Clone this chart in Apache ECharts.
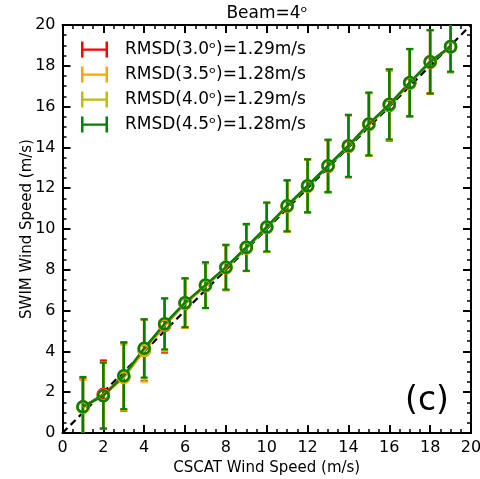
<!DOCTYPE html>
<html>
<head>
<meta charset="utf-8">
<script src="https://cdn.jsdelivr.net/npm/echarts@6/dist/echarts.min.js"></script>
<style>
html,body{margin:0;padding:0;background:#fff;overflow:hidden;}
#chart{width:480px;height:479px;}
</style>
</head>
<body>
<div id="chart"></div>
<script>
// ---- data ----
const xValues = [1,2,3,4,5,6,7,8,9,10,11,12,13,14,15,16,17,18,19];
const seriesNames = ['RMSD(3.0ᵒ)=1.29m/s','RMSD(3.5ᵒ)=1.28m/s','RMSD(4.0ᵒ)=1.29m/s','RMSD(4.5ᵒ)=1.28m/s'];
const meanRed    = [1.27,1.90,2.75,4.05,5.27,6.35,7.22,8.10,9.08,10.07,11.12,12.10,13.07,14.05,15.12,16.05,17.15,18.18,18.92];
const stdRed     = [1.40,1.66,1.66,1.50,1.33,1.20,1.10,1.10,1.14,1.20,1.26,1.30,1.28,1.52,1.54,1.72,1.66,1.56,1.24];
const meanOrange = [1.25,1.85,2.72,4.05,5.30,6.35,7.22,8.10,9.07,10.07,11.12,12.10,13.08,14.06,15.13,16.08,17.16,18.20,18.93];
const stdOrange  = [1.35,1.62,1.61,1.53,1.30,1.20,1.10,1.10,1.14,1.20,1.25,1.30,1.28,1.52,1.54,1.72,1.66,1.55,1.23];
const meanYellow = [1.28,1.84,2.80,4.12,5.33,6.38,7.24,8.12,9.10,10.09,11.13,12.11,13.09,14.07,15.14,16.10,17.17,18.20,18.94];
const stdYellow  = [1.44,1.62,1.65,1.45,1.26,1.20,1.12,1.10,1.15,1.20,1.25,1.30,1.28,1.52,1.54,1.72,1.65,1.55,1.23];
const meanGreen  = [1.29,1.83,2.81,4.15,5.35,6.39,7.25,8.13,9.10,10.10,11.14,12.12,13.10,14.08,15.15,16.11,17.18,18.20,18.94];
const stdGreen   = [1.46,1.62,1.64,1.43,1.25,1.20,1.12,1.10,1.15,1.20,1.25,1.30,1.28,1.52,1.54,1.72,1.65,1.55,1.23];
const diagLine   = [[0,0],[20,20]];
const axisTicks  = [0,2,4,6,8,10,12,14,16,18,20];

const colors = ['#ff0000','#ffa500','#bfbf00','#008000'];
const means = [meanRed, meanOrange, meanYellow, meanGreen];
const stds  = [stdRed, stdOrange, stdYellow, stdGreen];

const FONT = 'DejaVu Sans';
const chart = echarts.init(document.getElementById('chart'), null, {renderer:'canvas', width:480, height:479});

function makeErr(color){
  return function(params, api){
    const x = api.value(0), lo = api.value(1), hi = api.value(2);
    const p1 = api.coord([x, hi]), p2 = api.coord([x, lo]);
    const hw = 3.5;
    return {type:'group', children:[
      {type:'line', shape:{x1:p1[0],y1:p1[1],x2:p2[0],y2:p2[1]}, style:{stroke:color,lineWidth:2.5}},
      {type:'line', shape:{x1:p1[0]-hw,y1:p1[1],x2:p1[0]+hw,y2:p1[1]}, style:{stroke:color,lineWidth:2}},
      {type:'line', shape:{x1:p2[0]-hw,y1:p2[1],x2:p2[0]+hw,y2:p2[1]}, style:{stroke:color,lineWidth:2}}
    ]};
  };
}

const series = [{
  type:'line', name:'diag', data: diagLine, symbol:'none', silent:true,
  lineStyle:{color:'#000', width:2.2, type:[7,4.5]}, z:1
}];
for (let i=0;i<4;i++){
  const c = colors[i];
  series.push({
    type:'custom', name: seriesNames[i], renderItem: makeErr(c), clip:true,
    itemStyle:{color:c},
    data: xValues.map((x,j)=>[x, means[i][j]-stds[i][j], means[i][j]+stds[i][j]]), z:2
  });
  series.push({
    type:'line', name: 'mean' + i, data: xValues.map((x,j)=>[x, means[i][j]]),
    symbol:'circle', symbolSize:11,
    lineStyle:{color:c, width:2.5},
    itemStyle:{color:'rgba(0,0,0,0)', borderColor:c, borderWidth:2.5},
    z:2
  });
}

const axisCommon = {
  type:'value', min:0, max:20, interval:2,
  axisLine:{show:true, onZero:false, lineStyle:{color:'#000', width:2}},
  axisTick:{show:true, inside:true, length:8, lineStyle:{color:'#000', width:2}},
  minorTick:{show:true, splitNumber:4, length:4, lineStyle:{color:'#000', width:1.5}},
  splitLine:{show:false}
};
const legendIcon = 'path://M0,0L2.5,0L2.5,16L0,16Z M0,7L27,7L27,9.2L0,9.2Z M24.5,0L27,0L27,16L24.5,16Z';

chart.setOption({
  animation:false,
  backgroundColor:'#fff',
  title:[
    {text:'Beam=4ᵒ', left:267, top:5, textAlign:'center', padding:0,
     textStyle:{fontFamily:FONT, fontSize:17, fontWeight:'normal', color:'#000'}},
    {text:'(c)', left:427, top:385, textAlign:'center', padding:0,
     textStyle:{fontFamily:FONT, fontSize:33, fontWeight:'normal', color:'#000'}}
  ],
  legend:{
    orient:'vertical', left:81, top:41, padding:0, itemWidth:27, itemHeight:16, itemGap:8,
    data: seriesNames.map((n,i)=>({name:n, icon:legendIcon, itemStyle:{color:colors[i], borderWidth:0}})),
    textStyle:{fontFamily:FONT, fontSize:17, color:'#000', padding:[0,0,0,12], lineHeight:16}
  },
  grid:{left:62.5, top:25, right:9, bottom:46, containLabel:false, outerBoundsMode:'none'},
  xAxis:[
    Object.assign({}, axisCommon, {position:'bottom', name:'CSCAT Wind Speed (m/s)', nameLocation:'middle', nameGap:28,
      nameMoveOverlap:false,
      nameTextStyle:{fontFamily:FONT, fontSize:15, color:'#000'},
      axisLabel:{show:true, fontFamily:FONT, fontSize:16, color:'#000', margin:7,
        formatter: v => axisTicks.includes(v) ? String(v) : ''}}),
    Object.assign({}, axisCommon, {position:'top', axisLabel:{show:false}})
  ],
  yAxis:[
    Object.assign({}, axisCommon, {position:'left', name:'SWIM Wind Speed (m/s)', nameLocation:'middle', nameGap:28,
      nameMoveOverlap:false,
      nameTextStyle:{fontFamily:FONT, fontSize:15, color:'#000'},
      axisLabel:{show:true, fontFamily:FONT, fontSize:16, color:'#000', margin:7,
        formatter: v => axisTicks.includes(v) ? String(v) : ''}}),
    Object.assign({}, axisCommon, {position:'right', axisLabel:{show:false}})
  ],
  series: series
});
</script>
</body>
</html>
